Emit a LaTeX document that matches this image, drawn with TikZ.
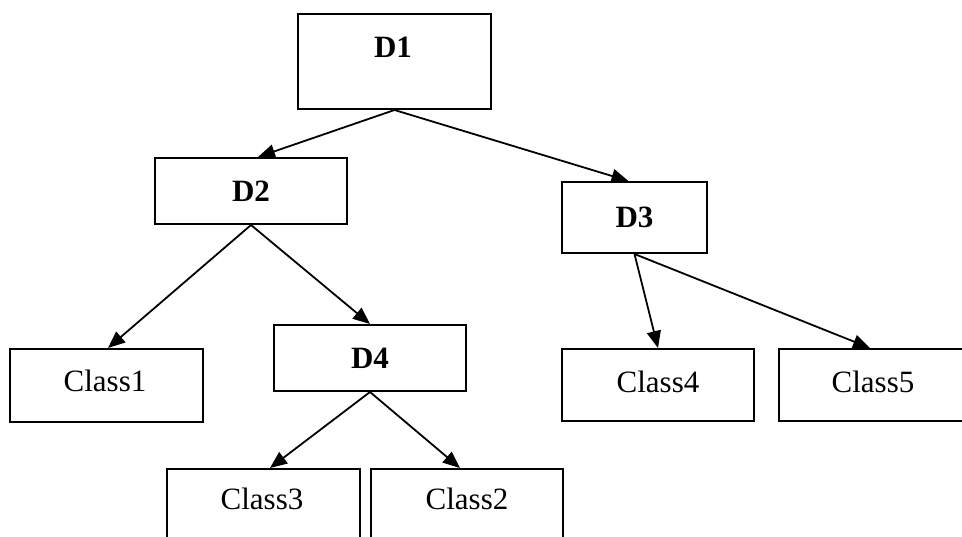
\documentclass[tikz,border=0pt]{standalone}
\usepackage{fontspec}
\setmainfont{Liberation Serif}
\usetikzlibrary{arrows.meta}
\begin{document}
\begin{tikzpicture}[x=1pt,y=-1pt,
  box/.style={draw, line width=2pt, rectangle, inner sep=0pt,
    font=\fontsize{31}{37}\selectfont},
  dbox/.style={box, font=\fontsize{31}{37}\selectfont\bfseries},
  edge/.style={line width=1.8pt, -{Triangle[length=17pt,width=14pt]}}]
  \useasboundingbox (0,0) rectangle (962,536);
  \clip (0,0) rectangle (962,536);

  % decision nodes
  \node[dbox, minimum width=193pt, minimum height=95pt] (d1) at (394.5,61.5) {};
  \node[font=\fontsize{31}{37}\selectfont\bfseries] (d1t) at (393,47) {D1};
  \node[dbox, minimum width=192pt, minimum height=66pt] (d2) at (251,191) {D2};
  \node[dbox, minimum width=145pt, minimum height=71pt] (d3) at (634.5,217.5) {D3};
  \node[dbox, minimum width=192pt, minimum height=66pt] (d4) at (370,358) {D4};

  % leaf classes
  \node[box, minimum width=193pt, minimum height=73pt] (c1) at (106.5,385.5) {};
  \node[font=\fontsize{31}{37}\selectfont] (c1t) at (105,381) {Class1};
  \node[box, minimum width=193pt, minimum height=73pt] (c3) at (263.5,505.5) {};
  \node[font=\fontsize{31}{37}\selectfont] (c3t) at (262,499) {Class3};
  \node[box, minimum width=192pt, minimum height=73pt] (c2) at (467,505.5) {};
  \node[font=\fontsize{31}{37}\selectfont] (c2t) at (467,499) {Class2};
  \node[box, minimum width=192pt, minimum height=72pt] (c4) at (658,385) {};
  \node[font=\fontsize{31}{37}\selectfont] (c4t) at (658,382) {Class4};
  \node[box, minimum width=188pt, minimum height=72pt] (c5) at (873,385) {};
  \node[font=\fontsize{31}{37}\selectfont] (c5t) at (873,382) {Class5};

  % branches
  \draw[edge] (d1.south) -- ([xshift=7pt]d2.north);
  \draw[edge] (d1.south) -- ([xshift=-6pt]d3.north);
  \draw[edge] (d2.south) -- ([xshift=1.5pt]c1.north);
  \draw[edge] (d2.south) -- (d4.north);
  \draw[edge] (d3.south) -- (c4.north);
  \draw[edge] (d3.south) -- ([xshift=-3pt]c5.north);
  \draw[edge] (d4.south) -- ([xshift=6.5pt]c3.north);
  \draw[edge] (d4.south) -- ([xshift=-7pt]c2.north);
\end{tikzpicture}
\end{document}
